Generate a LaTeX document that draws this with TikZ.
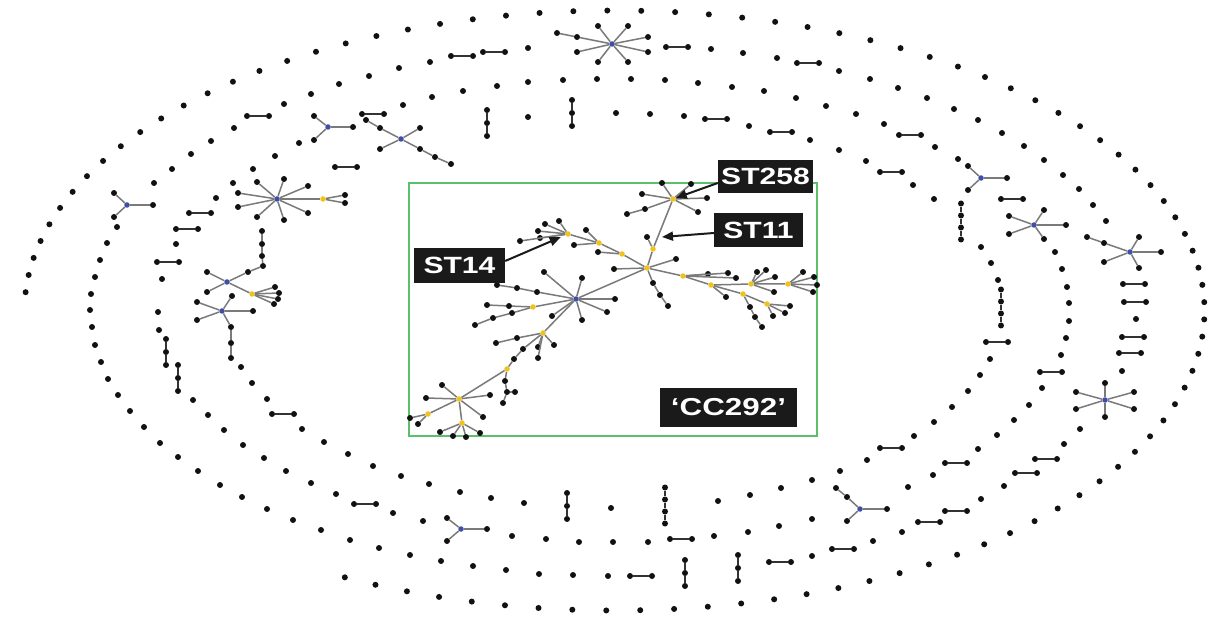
\documentclass[tikz,border=0pt]{standalone}
\usepackage{graphicx}
\usepackage{fontspec}
\setmainfont{Liberation Sans}
\usetikzlibrary{arrows.meta}
\definecolor{dotc}{HTML}{111111}
\definecolor{armc}{HTML}{7A7A7A}
\definecolor{pairc}{HTML}{333333}
\definecolor{hubblue}{HTML}{3F4FA8}
\definecolor{hubyel}{HTML}{F2C21B}
\definecolor{boxgreen}{HTML}{5DBE6C}
\definecolor{labbg}{HTML}{1A1A1A}
\tikzset{
  dot/.style={circle,fill=dotc,inner sep=0pt,minimum size=6pt},
  bhub/.style={circle,fill=hubblue,inner sep=0pt,minimum size=5.5pt},
  yhub/.style={circle,fill=hubyel,inner sep=0pt,minimum size=5.5pt},
  arm/.style={draw=armc,line width=1.5pt},
  pairln/.style={draw=pairc,line width=2.2pt},
  lab/.style={fill=labbg,text=white,inner sep=0pt,font=\fontsize{23.5}{24}\selectfont\bfseries},
  labarrow/.style={draw=labbg,line width=2pt,-{Triangle[length=11pt,width=9pt]}},
  hpair/.pic={\node[dot] (-a) at (-11,0) {}; \node[dot] (-b) at (11,0) {}; \draw[pairln] (-a) -- (-b);},
  vtriple/.pic={\node[dot] (-a) at (0,-13) {}; \node[dot] (-b) at (0,0) {}; \node[dot] (-c) at (0,13) {};
     \draw[pairln] (-a) -- (-b) -- (-c);},
  vquad/.pic={\node[dot] (-a) at (0,-18) {}; \node[dot] (-b) at (0,-6) {}; \node[dot] (-c) at (0,6) {};
     \node[dot] (-d) at (0,18) {}; \draw[pairln] (-a) -- (-b) -- (-c) -- (-d);},
}
\newcommand\hubstar[4]{%
  \node[#2] (#1) at (#3) {};
  \foreach \u/\v [count=\j] in {#4} {\node[dot] (#1-\j) at (\u,\v) {}; \draw[arm] (#1) -- (#1-\j);}%
}
\newcommand\chainfrom[4]{%
  \foreach \u/\v [count=\j] in {#4} {%
    \pgfmathtruncatemacro\jp{\j-1}%
    \node[dot] (#1-\j) at (\u,\v) {};
    \ifnum\j=1 \draw[#3] (#2) -- (#1-\j);\else \draw[#3] (#1-\jp) -- (#1-\j);\fi
  }%
}
\begin{document}
\begin{tikzpicture}[x=1pt,y=-1pt]
\fill[white] (0,0) rectangle (1218,617);
\useasboundingbox (0,0) rectangle (1218,617);

% ---------- ring 1 (outer, partial) ----------
\foreach \k in {0,...,89} {
  \pgfmathsetmacro\myang{176.5-3.3*\k}
  \node[dot] (rA\k) at ({614.5+590*cos(\myang)},{310.5-300*sin(\myang)}) {};
}

% ---------- ring 2 ----------
\foreach \a/\b [count=\i] in {90/310, 91/294, 95/277, 100/260, 107/243, 117/227, 154/183, 172/169,
  191/154, 211/141, 234/128, 284/104, 311/94, 339/84, 369/76, 399/68, 430/62, 528/48, 711/49, 743/53,
  777/58, 839/71, 870/79, 898/88, 927/98, 954/109, 978/120, 1002/133, 1024/146, 1044/160, 1063/175,
  1079/189, 1093/205, 1106/221, 1136/319, 1122/371, 1080/429, 1064/444, 1004/486, 981/499, 902/532,
  873/541, 812/556, 608/576, 573/575, 539/574, 506/570, 473/566, 441/561, 410/555, 379/548, 350/540,
  321/530, 293/520, 267/509, 242/497, 220/485, 198/471, 178/457, 160/443, 144/427, 130/411, 118/395,
  108/379, 101/362, 95/345, 92/327}
  \node[dot] (rB\i) at (\a,\b) {};
\foreach \a/\b [count=\i] in {258/116, 462/56, 494/52, 677/47, 808/63, 1134/284, 1135/302, 1133/337,
  1130/353, 1046/459, 1026/473, 956/511, 929/522, 843/549, 780/562, 641/576}
  \pic (rBp\i) at (\a,\b) {hpair};
\foreach \a/\b [count=\i] in {685/573, 738/568}
  \pic (rBt\i) at (\a,\b) {vtriple};
\hubstar{sB1}{bhub}{127,205}{114/193,114/217,153/205}
\hubstar{sB2}{bhub}{612,44}{598/26,628/26,648/37,648/52,628/62,598/62,577/52}
\chainfrom{sB2c}{sB2}{arm}{577/37,557/33}
\hubstar{sB3}{bhub}{1130,252}{1104/262,1139/237,1139/268,1161/252}
\chainfrom{sB3c}{sB3}{arm}{1104/243,1087/237}
\hubstar{sB4}{bhub}{1105,400}{1105/383,1105/417,1076/392,1076/409,1134/392,1134/409}

% ---------- ring 3 ----------
\foreach \a/\b [count=\i] in {158/312, 162/279, 176/244, 216/198, 233/183, 253/169, 275/156, 299/143,
  403/105, 432/97, 463/91, 497/86, 528/82, 563/80, 597/79, 631/79, 665/80, 698/83, 732/87, 764/91,
  796/98, 826/106, 856/114, 884/124, 935/147, 958/159, 1055/252, 1062/269, 1067/287, 1069/303,
  1069/321, 1066/338, 1061/355, 1042/388, 1029/405, 1014/420, 997/435, 978/449, 933/475, 908/487,
  812/519, 779/526, 748/532, 714/536, 648/542, 613/542, 579/542, 546/539, 512/536, 423/521, 393/513,
  336/494, 311/483, 286/471, 264/458, 243/445, 224/430, 208/415, 193/400, 159/330}
  \node[dot] (rC\i) at (\a,\b) {};
\foreach \a/\b [count=\i] in {168/262, 187/229, 200/213, 373/114, 910/135, 1012/199, 1051/372,
  956/463, 681/539, 365/504}
  \pic (rCp\i) at (\a,\b) {hpair};
\foreach \a/\b [count=\i] in {178/378, 166/352}
  \pic (rCt\i) at (\a,\b) {vtriple};
\hubstar{sC1}{bhub}{328,127}{314/116,314/140,353/127}
\hubstar{sC2}{bhub}{981,178}{968/166,968/190,1007/178}
\hubstar{sC3}{bhub}{1034,225}{1009/216,1009/234,1044/210,1044/239,1066/225}
\hubstar{sC4}{bhub}{860,509}{847/521,887/509}
\chainfrom{sC4c}{sC4}{arm}{847/497,836/488}
\hubstar{sC5}{bhub}{461,529}{447/518,447/541,487/529}

% ---------- ring 4 ----------
\foreach \a/\b [count=\i] in {528/117, 616/113, 650/114, 684/116, 749/126, 810/140, 839/150, 866/161,
  913/185, 934/199, 981/247, 991/263, 998/280, 990/359, 980/375, 968/391, 952/407, 934/422, 914/436,
  867/460, 840/471, 812/480, 781/488, 750/495, 718/501, 611/508, 524/503, 491/498, 460/492, 429/484,
  401/476, 373/466, 348/454, 324/442, 302/429, 267/399, 252/383, 241/367}
  \node[dot] (rD\i) at (\a,\b) {};
\foreach \a/\b [count=\i] in {346/167, 716/119, 781/132, 891/172, 997/342, 891/448, 283/414}
  \pic (rDp\i) at (\a,\b) {hpair};
\foreach \a/\b [count=\i] in {487/123, 572/113, 567/506}
  \pic (rDt\i) at (\a,\b) {vtriple};
\foreach \a/\b [count=\i] in {961/221.5, 1001/307.5, 665/505.5}
  \pic (rDq\i) at (\a,\b) {vquad};
\hubstar{sD1}{bhub}{401,139}{420/128,380/149}
\chainfrom{sD1c}{sD1}{arm}{380/128,366/120}
\chainfrom{sD1d}{sD1}{arm}{420/149,435/157,451/164}
\hubstar{sD2}{bhub}{222,311}{197/302,197/320,232/296,253/311}
\chainfrom{sD2c}{sD2}{arm}{231/327,231/343,231/358}
\hubstar{sD3}{bhub}{227,282}{207/272,207/292}
\chainfrom{sD3c}{sD3}{arm}{248/272,263/266,262/256,262/244,262/231}
\hubstar{sD3y}{yhub}{252,294}{275/287,279/293,278/299,274/304}
\draw[arm] (sD3) -- (sD3y);
\hubstar{sD4}{bhub}{277,199}{238/193,238/207,257/182,257/217,284/179,284/220,308/186,308/213}
\hubstar{sD4y}{yhub}{323,199}{345/195,345/203}
\draw[arm] (sD4) -- (sD4y);

% ---------- CC292 box and tree ----------
\draw[boxgreen,line width=2pt] (409,183) rectangle (817,436);

\hubstar{S258}{yhub}{673,199}{642/194,662/183,691/184,707/198,698/212}
\chainfrom{S258c}{S258}{arm}{645/209,627/214}
\hubstar{S11}{yhub}{653,249}{647/237}
\hubstar{H}{yhub}{647,268}{676/259,614/269}
\chainfrom{Hc}{H}{arm}{653/283,660/295,668/306}
\hubstar{Ya}{yhub}{622,254}{598/252}
\hubstar{Yb}{yhub}{599,243}{586/230,574/245}
\hubstar{S14}{yhub}{568,234}{559/221,545/224,538/231,540/238,520/241}
\hubstar{R1}{yhub}{683,276}{708/274,728/273,736/278}
\hubstar{R2}{yhub}{711,285}{726/297}
\hubstar{R3}{yhub}{751,284}{757/272,766/270,775/277,774/292}
\node[yhub] (R4) at (743,294) {};
\chainfrom{R4c}{R4}{arm}{750/307,755/317,762/327}
\hubstar{R5}{yhub}{788,284}{803/272,814/277,817/285,813/292}
\hubstar{R6}{yhub}{767,304}{790/306,785/313,773/316}
\hubstar{B}{bhub}{576,299}{544/272,582/278,615/299,607/312,582/320,552/316}
\chainfrom{Bc}{B}{arm}{537/292,517/288,497/285}
\node[yhub] (YL) at (533,307) {};
\chainfrom{YLc}{YL}{arm}{509/306,487/305}
\chainfrom{YLd}{YL}{arm}{512/313,493/318,475/325}
\hubstar{Y1}{yhub}{543,333}{554/345,538/347,538/358}
\chainfrom{Y1c}{Y1}{arm}{517/338,496/343}
\chainfrom{Y1d}{Y1}{arm}{523/349,514/359}
\node[yhub] (Y2) at (507,369) {};
\chainfrom{Y2c}{Y2}{arm}{505/381,507/392,503/403}
\node[dot] (Y2x) at (515,392) {};
\draw[arm] (Y2c-2) -- (Y2x);
\hubstar{Y3}{yhub}{459,399}{442/385,426/398,490/395,483/417}
\hubstar{Y4}{yhub}{428,414}{410/418,418/424}
\hubstar{Y5}{yhub}{462,423}{440/432,453/436,466/437,480/433}
\draw[arm] (S258) -- (S11) -- (H) -- (Ya) -- (Yb) -- (S14);
\draw[arm] (H) -- (R1) -- (R2) -- (R3) -- (R5);
\draw[arm] (R2) -- (R4) -- (R6);
\draw[arm] (H) -- (B) -- (YL);
\draw[arm] (B) -- (Y1);
\draw[arm] (Y1d-2) -- (Y2) -- (Y3) -- (Y4);
\draw[arm] (Y3) -- (Y5);

% ---------- labels ----------
\node[lab,minimum width=95pt,minimum height=33pt] (L258) at (765.5,176.5) {\scalebox{1.28}[1]{ST258}};
\node[lab,minimum width=89pt,minimum height=34pt] (L11) at (758.5,230) {\scalebox{1.28}[1]{ST11}};
\node[lab,minimum width=91pt,minimum height=35pt] (L14) at (459.5,265.5) {\scalebox{1.28}[1]{ST14}};
\node[lab,minimum width=137pt,minimum height=39pt,font=\fontsize{24.5}{25}\selectfont\bfseries] (LCC) at (728.5,407.5) {\scalebox{1.28}[1]{‘CC292’}};
\coordinate (t11) at (662,237);
\draw[labarrow] ([yshift=-6.5pt]L258.west) -- (S258);
\draw[labarrow] ([yshift=-3pt]L11.west) -- (t11);
\draw[labarrow,shorten >=5pt] ([yshift=4.5pt]L14.east) -- (S14);
\end{tikzpicture}
\end{document}
